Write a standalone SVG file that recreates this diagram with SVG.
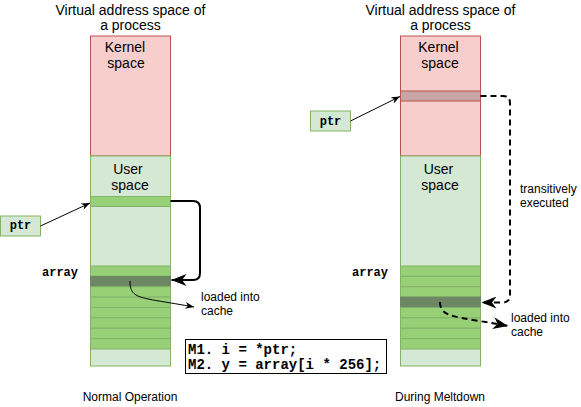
<svg xmlns="http://www.w3.org/2000/svg" width="581" height="407" viewBox="0 0 581 407">
<style>
.t{font-family:"Liberation Sans",Arial,sans-serif;font-size:14px;fill:#000;text-anchor:middle;dominant-baseline:central}
.s{font-family:"Liberation Sans",Arial,sans-serif;font-size:12px;fill:#000;dominant-baseline:central}
.m{font-family:"Liberation Mono","Courier New",monospace;font-weight:bold;font-size:12px;fill:#000;dominant-baseline:central}
.mc{font-family:"Liberation Mono","Courier New",monospace;font-weight:bold;font-size:14px;fill:#000;dominant-baseline:central}
.kern{fill:#f8cecc;stroke:#b85450;stroke-width:1}
.kband{fill:#c8a4a4;stroke:#b85450;stroke-width:1}
.user{fill:#d5e8d4;stroke:#82b366;stroke-width:1}
.row{fill:#97d077;stroke:#82b366;stroke-width:1}
.dark{fill:#6d8764;stroke:#6d8764;stroke-width:1}
.thin{fill:none;stroke:#000;stroke-width:1}
.thick{fill:none;stroke:#000;stroke-width:2}
.dash{fill:none;stroke:#000;stroke-width:2;stroke-dasharray:6 4}
</style>
<defs>
<marker id="ah" viewBox="0 0 10 8" refX="10" refY="4" markerWidth="9" markerHeight="7" markerUnits="userSpaceOnUse" orient="auto">
<path d="M0,0 L10,4 L0,8 L3,4 Z" fill="#000" stroke="none"/>
</marker>
<marker id="ahb" viewBox="0 0 10 8" refX="10" refY="4" markerWidth="15" markerHeight="12" markerUnits="userSpaceOnUse" orient="auto">
<path d="M0,0 L10,4 L0,8 L3,4 Z" fill="#000" stroke="none"/>
</marker>
</defs>

<g id="title-left">
<text class="t" x="130.5" y="10">Virtual address space of</text>
<text class="t" x="130.5" y="25">a process</text>
</g>
<g id="title-right">
<text class="t" x="440.5" y="10">Virtual address space of</text>
<text class="t" x="440.5" y="25">a process</text>
</g>

<g id="left-kernel">
<rect class="kern" x="90.5" y="36" width="80" height="120"/>
<text class="t" x="125" y="47">Kernel</text>
<text class="t" x="126" y="63">space</text>
</g>
<g id="left-user">
<rect class="user" x="90.5" y="156" width="80" height="210"/>
<text class="t" x="128" y="169">User</text>
<text class="t" x="130" y="185">space</text>
</g>
<g id="left-ptr-target">
<rect class="row" x="90.5" y="196.5" width="80" height="10"/>
</g>
<g id="left-array">
<rect class="row" x="90.5" y="266" width="80" height="10.375"/>
<rect class="dark" x="90.5" y="276.375" width="80" height="10.375"/>
<rect class="row" x="90.5" y="286.75" width="80" height="10.375"/>
<rect class="row" x="90.5" y="297.125" width="80" height="10.375"/>
<rect class="row" x="90.5" y="307.5" width="80" height="10.375"/>
<rect class="row" x="90.5" y="317.875" width="80" height="10.375"/>
<rect class="row" x="90.5" y="328.25" width="80" height="10.375"/>
<rect class="row" x="90.5" y="338.625" width="80" height="10.375"/>
</g>
<g id="left-ptr">
<rect class="user" x="0.5" y="216" width="40" height="20"/>
<text class="m" x="20.5" y="226" text-anchor="middle">ptr</text>
</g>
<g id="left-array-label">
<text class="m" x="78" y="272.5" text-anchor="end">array</text>
</g>
<g id="left-cache-label">
<text class="s" x="201" y="297">loaded into</text>
<text class="s" x="201" y="311">cache</text>
</g>
<g id="left-caption">
<text class="s" x="130" y="396.5" text-anchor="middle">Normal Operation</text>
</g>

<g id="right-kernel">
<rect class="kern" x="400.5" y="36" width="80" height="120"/>
<rect class="kband" x="400.5" y="91" width="80" height="10"/>
<text class="t" x="438.5" y="47">Kernel</text>
<text class="t" x="440" y="63">space</text>
</g>
<g id="right-user">
<rect class="user" x="400.5" y="156" width="80" height="210"/>
<text class="t" x="438.5" y="169">User</text>
<text class="t" x="440" y="185">space</text>
</g>
<g id="right-array">
<rect class="row" x="400.5" y="266" width="80" height="10.375"/>
<rect class="row" x="400.5" y="276.375" width="80" height="10.375"/>
<rect class="row" x="400.5" y="286.75" width="80" height="10.375"/>
<rect class="dark" x="400.5" y="297.125" width="80" height="10.375"/>
<rect class="row" x="400.5" y="307.5" width="80" height="10.375"/>
<rect class="row" x="400.5" y="317.875" width="80" height="10.375"/>
<rect class="row" x="400.5" y="328.25" width="80" height="10.375"/>
<rect class="row" x="400.5" y="338.625" width="80" height="10.375"/>
</g>
<g id="right-ptr">
<rect class="user" x="310.5" y="111" width="40" height="20"/>
<text class="m" x="330.5" y="121.5" text-anchor="middle">ptr</text>
</g>
<g id="right-array-label">
<text class="m" x="388" y="272.5" text-anchor="end">array</text>
</g>
<g id="right-transient-label">
<text class="s" x="520" y="189">transitively</text>
<text class="s" x="520" y="203">executed</text>
</g>
<g id="right-cache-label">
<text class="s" x="511" y="318">loaded into</text>
<text class="s" x="511" y="332">cache</text>
</g>
<g id="right-caption">
<text class="s" x="440" y="396.5" text-anchor="middle">During Meltdown</text>
</g>

<g id="code">
<rect x="185.5" y="339.5" width="201" height="34" fill="#fff" stroke="#000" stroke-width="1"/>
<text class="mc" x="188" y="350">M1. i = *ptr;</text>
<text class="mc" x="188" y="365">M2. y = array[i * 256];</text>
</g>

<g id="connectors">
<path class="thin" d="M40.5,226 L90,203" marker-end="url(#ah)"/>
<path class="thick" d="M170.5,201 L193,201 Q200,201 200,208 L200,273 Q200,280 193,280 L171.5,280" marker-end="url(#ahb)"/>
<path class="thin" d="M130,281 C130,300 140,297 194,307" marker-end="url(#ah)"/>
<path class="thin" d="M350.5,121 L400,96.5" marker-end="url(#ah)"/>
<path class="dash" d="M480.5,96 L503,96 Q510,96 510,103 L510,295 Q510,302.5 503,302.5 L481.5,302.5" marker-end="url(#ahb)"/>
<path class="dash" d="M440,302 C440,318 455,316 508,326" marker-end="url(#ahb)"/>
</g>
</svg>
